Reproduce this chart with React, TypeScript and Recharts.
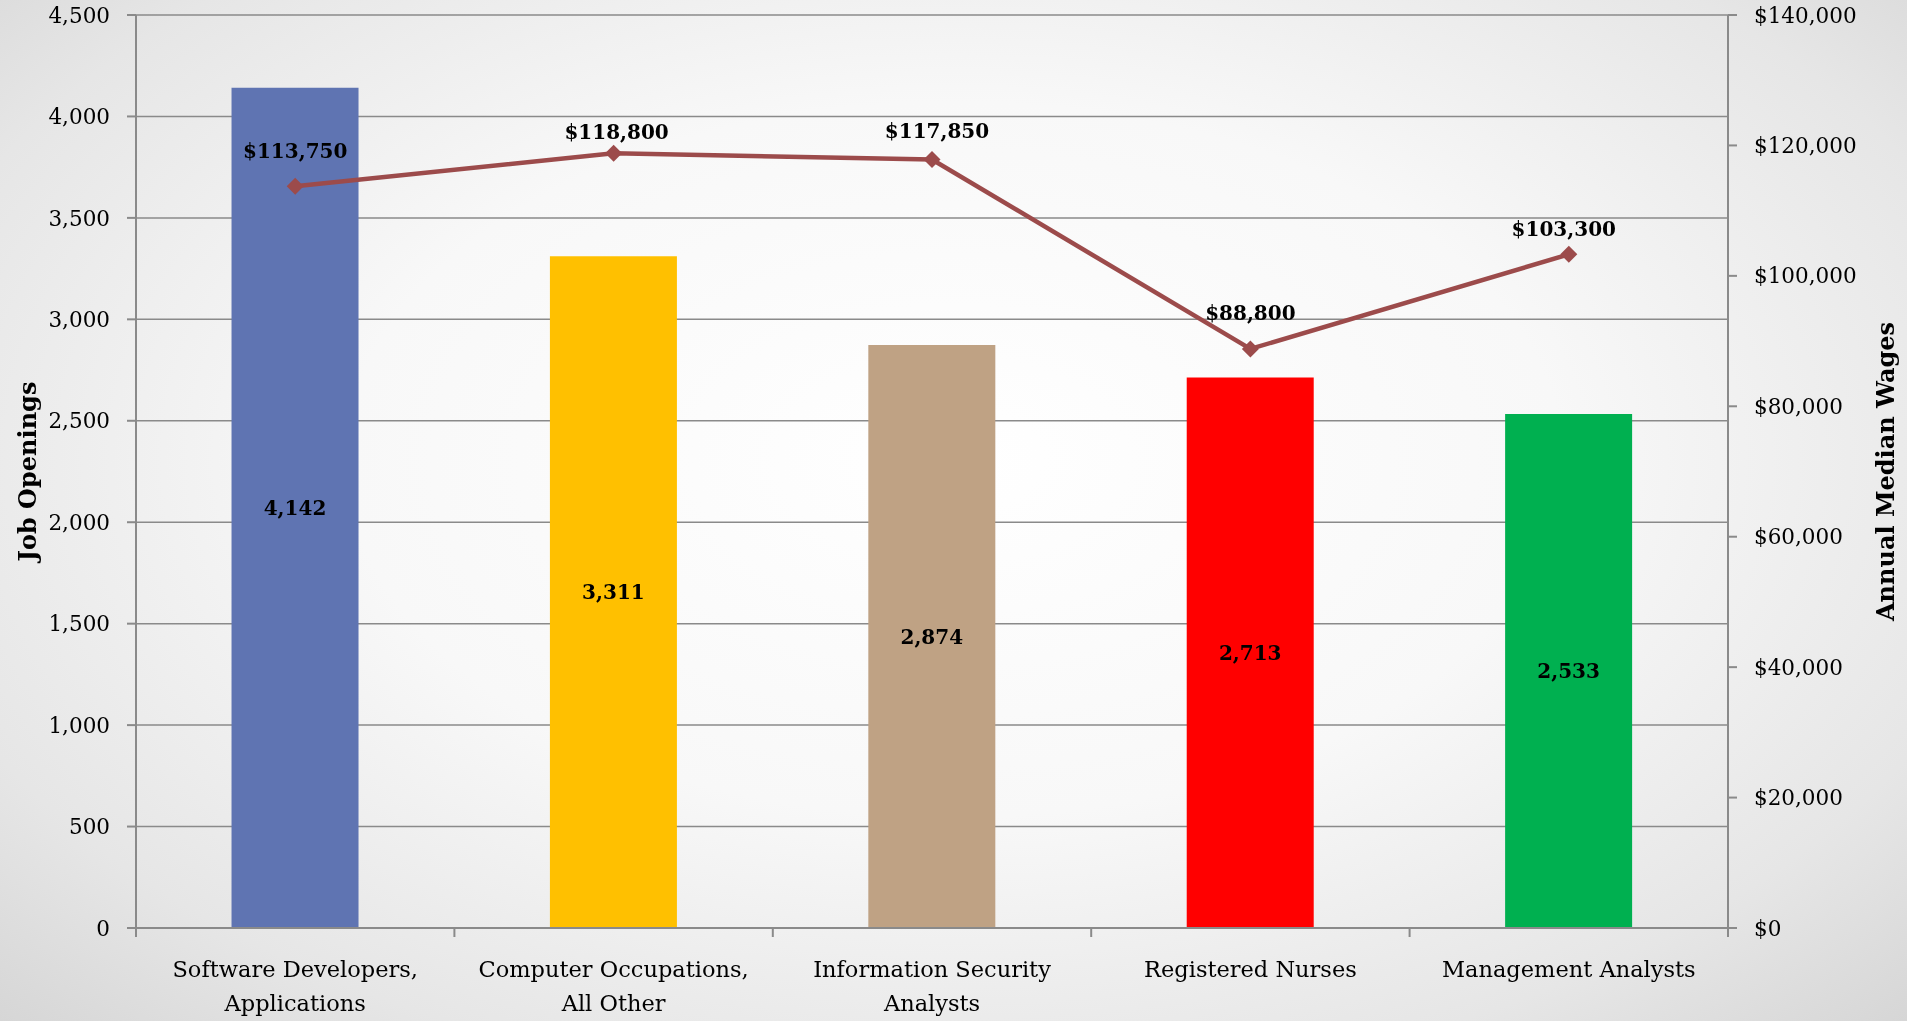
import React from 'react';
import {
  ComposedChart,
  Bar,
  Line,
  XAxis,
  YAxis,
  CartesianGrid,
  LabelList,
  Cell
} from 'recharts';

const categories = [
  'Software Developers,\nApplications',
  'Computer Occupations,\nAll Other',
  'Information Security\nAnalysts',
  'Registered Nurses',
  'Management Analysts'
];
const jobOpenings = [4142, 3311, 2874, 2713, 2533];
const medianWages = [113750, 118800, 117850, 88800, 103300];
const barColors = ['#5F74B2', '#FFC000', '#BFA284', '#FF0000', '#00B050'];
const leftTicks = [0, 500, 1000, 1500, 2000, 2500, 3000, 3500, 4000, 4500];
const rightTicks = [0, 20000, 40000, 60000, 80000, 100000, 120000, 140000];

const data = categories.map((name, i) => ({
  name,
  openings: jobOpenings[i],
  wage: medianWages[i]
}));

const W = 1907;
const H = 1021;
const LEFT_W = 136;
const RIGHT_W = 179;
const PLOT_W = W - LEFT_W - RIGHT_W;
const AXIS_GRAY = '#8a8a8a';
const LINE_COLOR = '#9C4B4B';
// how far each wage label sits above its point (labels were hand placed)
const wageLabelLift = [28, 14, 21, 29, 18];
const wageLabelShift = [0, 3, 5, 0, -5];

const fmtNum = (v: any) => Number(v).toLocaleString('en-US');
const fmtMoney = (v: any) => '$' + Number(v).toLocaleString('en-US');

const CategoryTick = (props: any) => {
  const { x, y, payload, index } = props;
  const half = PLOT_W / categories.length / 2;
  const lines = String(payload.value).split('\n');
  return (
    <g>
      <line x1={x - half} x2={x - half} y1={y} y2={y + 9} stroke={AXIS_GRAY} strokeWidth={2} />
      {index === categories.length - 1 && (
        <line x1={x + half} x2={x + half} y1={y} y2={y + 9} stroke={AXIS_GRAY} strokeWidth={2} />
      )}
      {lines.map((t: string, i: number) => (
        <text key={i} x={x} y={y + 49 + i * 34} textAnchor="middle" fontSize={22.5} fill="#000">
          {t}
        </text>
      ))}
    </g>
  );
};

const Diamond = (props: any) => {
  const { cx, cy } = props;
  if (cx == null || cy == null) return null;
  const s = 8.5;
  return (
    <path
      d={`M${cx},${cy - s} L${cx + s},${cy} L${cx},${cy + s} L${cx - s},${cy} Z`}
      fill={LINE_COLOR}
    />
  );
};

const WageLabel = (props: any) => {
  const { x, y, value, index } = props;
  return (
    <text
      x={x + wageLabelShift[index]}
      y={y - wageLabelLift[index]}
      textAnchor="middle"
      fontSize={20}
      fontWeight="bold"
      fill="#000"
    >
      {fmtMoney(value)}
    </text>
  );
};

export default function App() {
  return (
    <div
      style={{
        position: 'fixed',
        top: 0,
        left: 0,
        width: W,
        height: H,
        background: 'radial-gradient(ellipse at 50% 45%, #ffffff 0%, #f8f8f8 45%, #e6e6e6 80%, #d6d6d6 100%)',
        fontFamily: '"DejaVu Serif", serif'
      }}
    >
      <ComposedChart
        width={W}
        height={H}
        data={data}
        margin={{ top: 15, right: 0, bottom: 0, left: 0 }}
        barCategoryGap="30%"
      >
        <CartesianGrid vertical={false} stroke={AXIS_GRAY} strokeWidth={1.5} yAxisId="left" />
        <XAxis
          dataKey="name"
          height={93}
          interval={0}
          tick={<CategoryTick />}
          tickLine={false}
          tickSize={0}
          tickMargin={0}
          axisLine={{ stroke: AXIS_GRAY, strokeWidth: 2 }}
        />
        <YAxis
          yAxisId="left"
          width={LEFT_W}
          domain={[0, 4500]}
          ticks={leftTicks}
          tickFormatter={fmtNum}
          tick={{ fill: '#000', fontSize: 21.5 }}
          tickSize={9}
          tickMargin={17}
          tickLine={{ stroke: AXIS_GRAY, strokeWidth: 2 }}
          axisLine={{ stroke: AXIS_GRAY, strokeWidth: 2 }}
          label={{
            value: 'Job Openings',
            angle: -90,
            position: 'insideLeft',
            offset: 27,
            style: { textAnchor: 'middle', fontWeight: 'bold', fontSize: 24, fill: '#000' }
          }}
        />
        <YAxis
          yAxisId="right"
          orientation="right"
          width={RIGHT_W}
          domain={[0, 140000]}
          ticks={rightTicks}
          tickFormatter={fmtMoney}
          tick={{ fill: '#000', fontSize: 21.5 }}
          tickSize={9}
          tickMargin={17}
          tickLine={{ stroke: AXIS_GRAY, strokeWidth: 2 }}
          axisLine={{ stroke: AXIS_GRAY, strokeWidth: 2 }}
          label={{
            value: 'Annual Median Wages',
            angle: -90,
            position: 'insideRight',
            offset: 22,
            style: { textAnchor: 'middle', fontWeight: 'bold', fontSize: 24, fill: '#000' }
          }}
        />
        <Bar yAxisId="left" dataKey="openings" isAnimationActive={false}>
          {data.map((d, i) => (
            <Cell key={d.name} fill={barColors[i]} />
          ))}
          <LabelList
            dataKey="openings"
            position="center"
            formatter={fmtNum}
            style={{ fontWeight: 'bold', fontSize: 20, fill: '#000' }}
          />
        </Bar>
        <Line
          yAxisId="right"
          dataKey="wage"
          stroke={LINE_COLOR}
          strokeWidth={4.5}
          dot={<Diamond />}
          activeDot={false}
          isAnimationActive={false}
        >
          <LabelList dataKey="wage" content={<WageLabel />} />
        </Line>
      </ComposedChart>
    </div>
  );
}
